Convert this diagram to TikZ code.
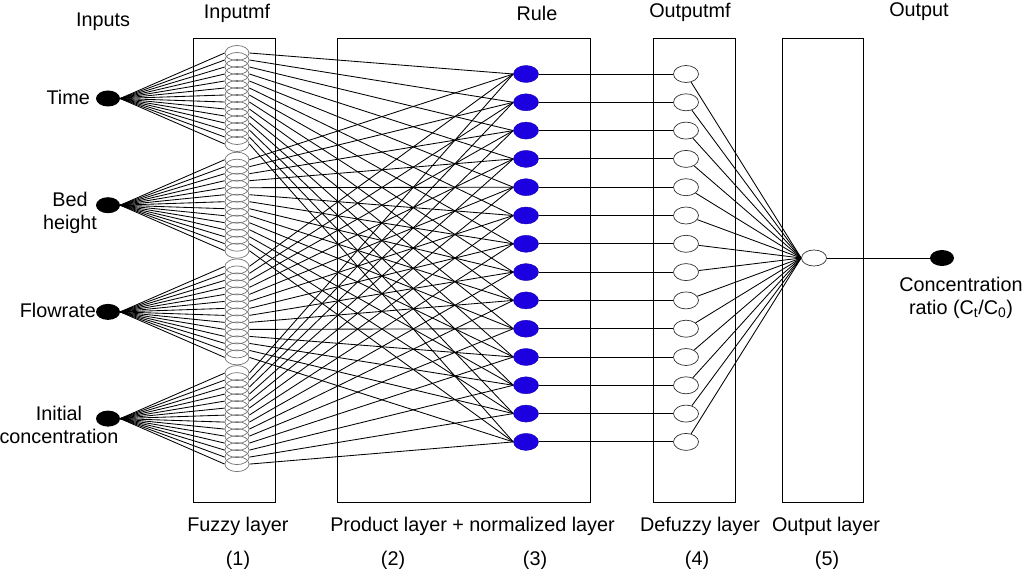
\documentclass[tikz,border=0pt]{standalone}
\usepackage{fontspec}
\setmainfont{Liberation Sans}
\usetikzlibrary{shapes.geometric}
\definecolor{ruleblue}{RGB}{28,0,224}
\pgfdeclarelayer{background}
\pgfsetlayers{background,main}
\begin{document}
\begin{tikzpicture}[x=1pt,y=-1pt,
  lbl/.style={font=\fontsize{19.8}{23}\selectfont, inner sep=0pt, align=center},
  layerbox/.style={draw, line width=1pt, inner sep=0pt},
  mfnode/.style={ellipse, draw=black!55, line width=0.7pt, inner sep=0pt, minimum width=24pt, minimum height=15pt},
  innode/.style={ellipse, fill=black, inner sep=0pt, minimum width=24pt, minimum height=16pt},
  rulenode/.style={ellipse, draw=ruleblue!80!black, fill=ruleblue, inner sep=0pt, minimum width=25pt, minimum height=17pt},
  omfnode/.style={ellipse, draw=black!80, fill=white, line width=0.7pt, inner sep=0pt, minimum width=25pt, minimum height=17pt},
  conn/.style={line width=0.85pt},
]
\useasboundingbox (0,0) rectangle (1024,569);
% layer boxes
\begin{pgfonlayer}{background}
\node[layerbox, minimum width=82pt, minimum height=463pt] (boxA) at (234,270.5) {};
\node[layerbox, minimum width=253pt, minimum height=463pt] (boxB) at (463.5,270.5) {};
\node[layerbox, minimum width=82pt, minimum height=463pt] (boxC) at (694,270.5) {};
\node[layerbox, minimum width=81pt, minimum height=463pt] (boxD) at (822.5,270.5) {};
\end{pgfonlayer}
% nodes
\foreach \i in {0,...,3} {
  \node[innode] (in\i) at (108, {53+106.7*\i+45.5}) {};
  \foreach \j in {0,...,13} {
    \node[mfnode] (mf\i-\j) at (237, {53+106.7*\i+7*\j}) {};
  }
}
\foreach \j in {0,...,13} {
  \node[rulenode] (rule\j) at (526, {74+28.3*\j}) {};
  \node[omfnode] (omf\j) at (686, {74+28.3*\j}) {};
}
\node[omfnode, minimum height=16pt] (out) at (814,258) {};
\node[innode] (fin) at (942,258) {};
% connections
\begin{pgfonlayer}{background}
\foreach \i in {0,...,3} {
  \foreach \j in {0,...,13} {
    \draw[conn] (in\i.east) -- (mf\i-\j.west);
    \draw[conn] (mf\i-\j.east) -- (rule\j.west);
  }
}
\foreach \j in {0,...,13} {
  \draw[conn] (rule\j) -- (omf\j);
  \draw[conn] (omf\j) -- (out.west);
}
\draw[conn] (out) -- (fin);
\end{pgfonlayer}
% labels
\node[lbl] (tInputs) at (103,22) {Inputs};
\node[lbl] (tInputmf) at (237,13) {Inputmf};
\node[lbl] (tRule) at (537,13) {Rule};
\node[lbl] (tOutputmf) at (690,12) {Outputmf};
\node[lbl] (tOutput) at (919,12) {Output};
\node[lbl, anchor=east] (tTime) at (90,97) {Time};
\node[lbl] (tBed) at (70,213) {Bed\\height};
\node[lbl, anchor=east] (tFlow) at (96,310) {Flowrate};
\node[lbl] (tInit) at (59,425) {Initial\\concentration};
\node[lbl] (tConc) at (961,298) {Concentration\\ratio (C\textsubscript{t}/C\textsubscript{0})};
\node[lbl] (tFuzzy) at (238,526) {Fuzzy layer};
\node[lbl] (tProd) at (472.5,526) {Product layer + normalized layer};
\node[lbl] (tDefuzzy) at (700,526) {Defuzzy layer};
\node[lbl] (tOutLayer) at (826,526) {Output layer};
\node[lbl] (n1) at (238,560) {(1)};
\node[lbl] (n2) at (393,560) {(2)};
\node[lbl] (n3) at (535,560) {(3)};
\node[lbl] (n4) at (697,560) {(4)};
\node[lbl] (n5) at (827,560) {(5)};
\end{tikzpicture}
\end{document}
